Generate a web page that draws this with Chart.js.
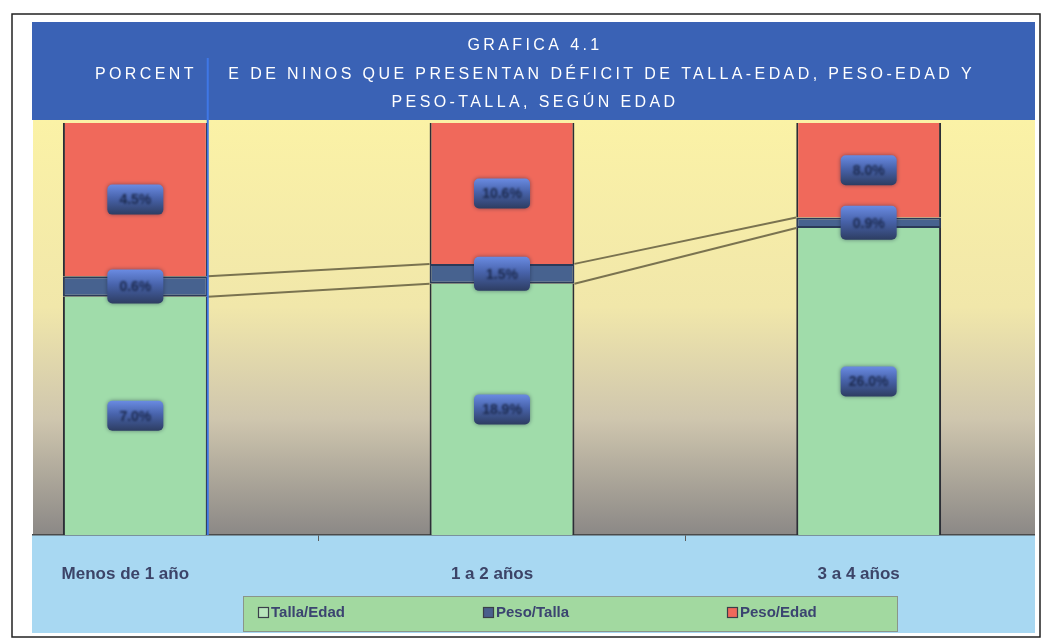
<!DOCTYPE html>
<html>
<head>
<meta charset="utf-8">
<script src="https://cdn.jsdelivr.net/npm/chart.js@4/dist/chart.umd.min.js"></script>
<style>
  html, body { margin: 0; padding: 0; background: #fff; overflow: hidden; }
  #wrap { position: relative; width: 1043px; height: 640px; overflow: hidden; }
  #chart { position: absolute; left: -48px; top: 0; }
</style>
</head>
<body>
<div id="wrap"><canvas id="chart" width="1100" height="640"></canvas></div>
<script>
const categories = ['Menos de 1 año', '1 a 2 años', '3 a 4 años'];
const tallaEdad = [7.0, 18.9, 26.0];
const pesoTalla = [0.6, 1.5, 0.9];
const pesoEdad = [4.5, 10.6, 8.0];
const titleLines = [
    'GRAFICA 4.1',
    'PORCENT    E DE NINOS QUE PRESENTAN DÉFICIT DE TALLA-EDAD, PESO-EDAD Y',
    'PESO-TALLA, SEGÚN EDAD'
];

// the canvas sits 48px left of the page so the outer category halves get cropped
const OX = 48;

// each column is stacked to 100%
const totals = categories.map((c, i) => tallaEdad[i] + pesoTalla[i] + pesoEdad[i]);
const share = arr => arr.map((v, i) => v / totals[i] * 100);

const decor = {
    id: 'decor',
    beforeDraw(chart) {
        const ctx = chart.ctx;
        ctx.save();
        ctx.fillStyle = '#ffffff';
        ctx.fillRect(0, 0, chart.width, chart.height);

        // title band
        ctx.fillStyle = '#3a62b5';
        ctx.fillRect(OX + 32, 22, 1003, 98);

        // plot background, yellow fading to grey
        const g = ctx.createLinearGradient(0, 120, 0, 535);
        g.addColorStop(0, '#fbf2a6');
        g.addColorStop(0.45, '#f1e7aa');
        g.addColorStop(0.72, '#cfc6ae');
        g.addColorStop(1, '#8b8886');
        ctx.fillStyle = g;
        ctx.fillRect(OX + 33, 120, 1002, 415);

        // band under the axis
        ctx.fillStyle = '#a8d8f2';
        ctx.fillRect(OX + 32, 535, 1003, 98);

        ctx.fillStyle = '#ffffff';
        ctx.font = '16px "Liberation Sans", Arial, sans-serif';
        ctx.letterSpacing = '3.4px';
        ctx.textAlign = 'center';
        ctx.textBaseline = 'middle';
        titleLines.forEach((t, i) => ctx.fillText(t, OX + 535, 46 + i * 28.5));
        ctx.restore();
    },
    afterDatasetsDraw(chart) {
        const ctx = chart.ctx;
        ctx.save();

        // series lines between the columns
        ctx.strokeStyle = '#7a7350';
        ctx.lineWidth = 2;
        [0, 1].forEach(d => {
            const pts = chart.getDatasetMeta(d).data;
            for (let i = 0; i < pts.length - 1; i++) {
                ctx.beginPath();
                ctx.moveTo(pts[i].x + pts[i].width / 2, pts[i].y);
                ctx.lineTo(pts[i + 1].x - pts[i + 1].width / 2, pts[i + 1].y);
                ctx.stroke();
            }
        });

        // blue edge on the first column
        const first = chart.getDatasetMeta(0).data[0];
        ctx.strokeStyle = '#3f77e6';
        ctx.lineWidth = 2;
        ctx.beginPath();
        ctx.moveTo(first.x + first.width / 2, 58);
        ctx.lineTo(first.x + first.width / 2, chart.chartArea.bottom);
        ctx.stroke();

        // value boxes
        chart.data.datasets.forEach((ds, d) => {
            chart.getDatasetMeta(d).data.forEach((el, i) => {
                const cx = el.x;
                const cy = (el.y + el.base) / 2;
                const w = 56, h = d === 1 ? 34 : 30;
                const bg = ctx.createLinearGradient(0, cy - h / 2, 0, cy + h / 2);
                bg.addColorStop(0, '#6a8be2');
                bg.addColorStop(0.45, '#4863ab');
                bg.addColorStop(1, '#2d3d62');
                ctx.fillStyle = bg;
                ctx.shadowColor = 'rgba(20,30,60,0.5)';
                ctx.shadowBlur = 4;
                ctx.beginPath();
                ctx.roundRect(cx - w / 2, cy - h / 2, w, h, 5);
                ctx.fill();
                ctx.shadowBlur = 0;
                ctx.filter = 'blur(0.8px)';
                ctx.fillStyle = '#1c2a4e';
                ctx.font = 'bold 14px "Liberation Sans", Arial, sans-serif';
                ctx.textAlign = 'center';
                ctx.textBaseline = 'middle';
                ctx.fillText(ds.values[i].toFixed(1) + '%', cx, cy + 1);
                ctx.filter = 'none';
            });
        });
        ctx.restore();
    },
    afterDraw(chart) {
        const ctx = chart.ctx;
        ctx.save();
        // white margins outside the framed area
        ctx.fillStyle = '#ffffff';
        ctx.fillRect(0, 0, OX + 32, chart.height);
        ctx.fillRect(OX + 1035, 0, chart.width, chart.height);

        ctx.strokeStyle = '#222';
        ctx.lineWidth = 1.5;
        ctx.strokeRect(OX + 12, 14, 1028, 623);

        // legend
        ctx.fillStyle = '#a2d9a0';
        ctx.fillRect(OX + 243, 596, 654, 35);
        ctx.strokeStyle = '#8a958a';
        ctx.lineWidth = 1;
        ctx.strokeRect(OX + 243.5, 596.5, 654, 35);
        const itemX = [258, 483, 727];
        ctx.font = 'bold 15px "Liberation Sans", Arial, sans-serif';
        ctx.textBaseline = 'middle';
        chart.data.datasets.forEach((ds, d) => {
            const x = OX + itemX[d];
            ctx.fillStyle = ds.swatch;
            ctx.fillRect(x, 607, 11, 11);
            ctx.strokeStyle = '#3a3f4a';
            ctx.lineWidth = 1.2;
            ctx.strokeRect(x + 0.5, 607.5, 10, 10);
            ctx.fillStyle = '#3b4470';
            ctx.fillText(ds.label, x + 13, 613);
        });
        ctx.restore();
    }
};

const barBorder = { left: 2, right: 2, top: 0, bottom: 0 };

new Chart(document.getElementById('chart'), {
    type: 'bar',
    data: {
        labels: categories,
        datasets: [
            {
                label: 'Talla/Edad',
                values: tallaEdad,
                data: share(tallaEdad),
                backgroundColor: '#a0dcaa',
                swatch: '#b8e6bc',
                borderColor: '#2b2e36',
                borderWidth: barBorder,
                borderSkipped: false
            },
            {
                label: 'Peso/Talla',
                values: pesoTalla,
                data: share(pesoTalla),
                backgroundColor: '#47628f',
                swatch: '#4a5f8c',
                borderColor: '#2b3a58',
                borderWidth: { left: 2, right: 2, top: 2, bottom: 2 },
                borderSkipped: false
            },
            {
                label: 'Peso/Edad',
                values: pesoEdad,
                data: share(pesoEdad),
                backgroundColor: '#f0695b',
                swatch: '#f0695b',
                borderColor: '#2b2e36',
                borderWidth: barBorder,
                borderSkipped: false
            }
        ]
    },
    options: {
        responsive: false,
        animation: false,
        layout: { padding: { top: 123, left: 0, right: 0, bottom: 0 } },
        datasets: { bar: { categoryPercentage: 1, barPercentage: 0.395 } },
        scales: {
            x: {
                stacked: true,
                afterFit(scale) { scale.height = 105; },
                border: { display: true, color: '#4a4a4a', width: 1.5 },
                grid: { drawOnChartArea: false, drawTicks: true, tickLength: 6, color: '#5a5a5a' },
                ticks: {
                    color: '#3c4468',
                    font: { family: '"Liberation Sans", Arial, sans-serif', size: 17, weight: 'bold' },
                    padding: 23,
                    labelOffset: -10
                }
            },
            y: { stacked: true, display: false, min: 0, max: 100 }
        },
        plugins: {
            legend: { display: false },
            tooltip: { enabled: false }
        }
    },
    plugins: [decor]
});
</script>
</body>
</html>
